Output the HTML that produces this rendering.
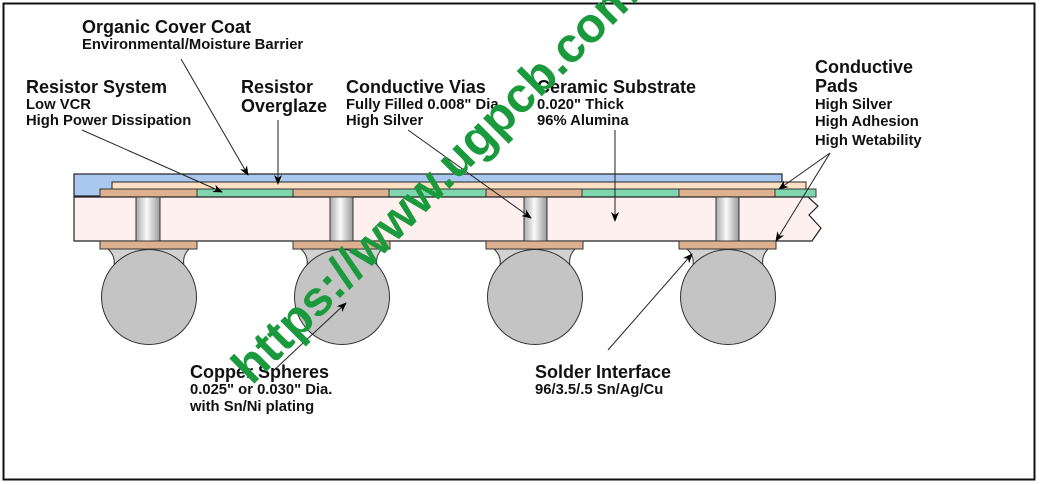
<!DOCTYPE html>
<html><head><meta charset="utf-8"><style>
html,body{margin:0;padding:0;background:#fff;}
svg{display:block;}
text{font-family:"Liberation Sans",Arial,sans-serif;font-weight:bold;fill:#111;}
.t{font-size:18px;}
.s{font-size:14.8px;}
</style></head><body>
<svg width="1040" height="485" viewBox="0 0 1040 485" xmlns="http://www.w3.org/2000/svg">
<defs>
<marker id="a" markerWidth="10" markerHeight="10" refX="9" refY="5" orient="auto" markerUnits="userSpaceOnUse">
<path d="M0,1 L10,5 L0,9 L3,5 Z" fill="#000"/></marker>
<linearGradient id="v" x1="0" x2="1"><stop offset="0" stop-color="#aaa"/><stop offset="0.45" stop-color="#fafafa"/><stop offset="1" stop-color="#999"/></linearGradient>
</defs>
<rect x="3.5" y="3.5" width="1031" height="476" fill="none" stroke="#111" stroke-width="2"/>
<rect x="74" y="174" width="708" height="22" fill="#a9c8ef" stroke="#222" stroke-width="1.2"/>
<rect x="112" y="182" width="694" height="8" fill="#fbe0c4" stroke="#222" stroke-width="1"/>
<g stroke="#333" stroke-width="1">
<rect x="100" y="189" width="97" height="8" fill="#ddb08f"/>
<rect x="197" y="189" width="96" height="8" fill="#7fd6ae"/>
<rect x="293" y="189" width="96" height="8" fill="#ddb08f"/>
<rect x="389" y="189" width="97" height="8" fill="#7fd6ae"/>
<rect x="486" y="189" width="96" height="8" fill="#ddb08f"/>
<rect x="582" y="189" width="97" height="8" fill="#7fd6ae"/>
<rect x="679" y="189" width="96" height="8" fill="#ddb08f"/>
<rect x="775" y="189" width="41" height="8" fill="#7fd6ae"/>
</g>
<path d="M74,197 L808,197 L818,206 L809,215 L821,228 L812,241 L74,241 Z" fill="#fdf0ee" stroke="#222" stroke-width="1.2"/>
<g stroke="#333" stroke-width="1" fill="url(#v)">
<rect x="136" y="197" width="24" height="44"/>
<rect x="330" y="197" width="23" height="44"/>
<rect x="524" y="197" width="23" height="44"/>
<rect x="716" y="197" width="23" height="44"/>
</g>
<g stroke="#333" stroke-width="1">
<g id="b1">
<path d="M108,249 L189,249 Q180,258 186,272 L112,272 Q118,258 108,249 Z" fill="#d2d2d2"/>
<circle cx="149" cy="297" r="47.5" fill="#c4c4c4"/>
<rect x="100" y="241" width="97" height="8" fill="#ddb08f"/>
</g>
<use href="#b1" x="193"/>
<use href="#b1" x="386"/>
<use href="#b1" x="579"/>
</g>
<text class="t" x="82" y="33">Organic Cover Coat</text>
<text class="s" x="82" y="49">Environmental/Moisture Barrier</text>
<text class="t" x="26" y="93">Resistor System</text>
<text class="s" x="26" y="109">Low VCR</text>
<text class="s" x="26" y="125">High Power Dissipation</text>
<text class="t" x="241" y="93">Resistor</text>
<text class="t" x="241" y="112">Overglaze</text>
<text class="t" x="346" y="93">Conductive Vias</text>
<text class="s" x="346" y="109">Fully Filled 0.008" Dia.</text>
<text class="s" x="346" y="125">High Silver</text>
<text class="t" x="537" y="93">Ceramic Substrate</text>
<text class="s" x="537" y="109">0.020" Thick</text>
<text class="s" x="537" y="125">96% Alumina</text>
<text class="t" x="815" y="73">Conductive</text>
<text class="t" x="815" y="92">Pads</text>
<text class="s" x="815" y="109">High Silver</text>
<text class="s" x="815" y="126">High Adhesion</text>
<text class="s" x="815" y="145">High Wetability</text>
<text class="t" x="190" y="378">Copper Spheres</text>
<text class="s" x="190" y="394">0.025" or 0.030" Dia.</text>
<text class="s" x="190" y="411">with Sn/Ni plating</text>
<text class="t" x="535" y="378">Solder Interface</text>
<text class="s" x="535" y="394">96/3.5/.5 Sn/Ag/Cu</text>
<g stroke="#222" stroke-width="1" marker-end="url(#a)">
<line x1="181" y1="59" x2="248" y2="175"/>
<line x1="278" y1="120" x2="278" y2="184"/>
<line x1="82" y1="130" x2="222" y2="192"/>
<line x1="408" y1="130" x2="531" y2="218"/>
<line x1="615" y1="130" x2="615" y2="221"/>
<line x1="830" y1="153" x2="779" y2="189"/>
<line x1="830" y1="153" x2="776" y2="241"/>
<line x1="608" y1="350" x2="692" y2="254"/>
<line x1="272" y1="372" x2="346" y2="303"/>
</g>
<text x="0" y="0" transform="translate(252,386) rotate(-45)" style="font-family:'Liberation Sans',Arial,sans-serif;font-weight:bold;font-size:49px;fill:#1a9a3c;letter-spacing:0px">https://www.ugpcb.com</text>
</svg>
</body></html>
